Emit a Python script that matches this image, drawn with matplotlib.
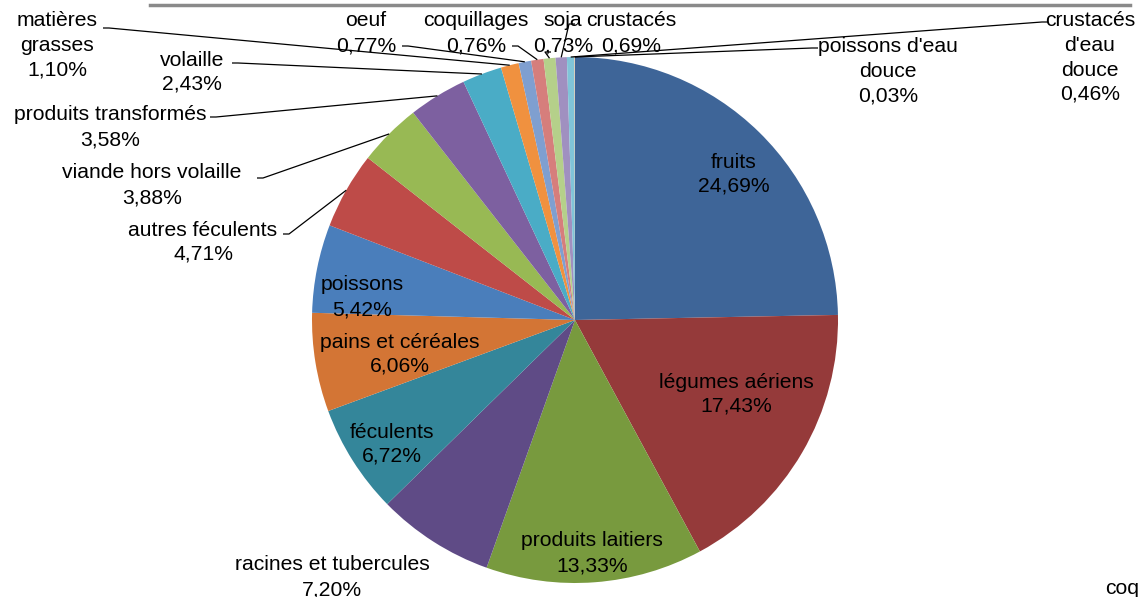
import matplotlib
matplotlib.use("Agg")
import matplotlib.pyplot as plt
import numpy as np

categories = ["fruits", "légumes aériens", "produits laitiers", "racines et tubercules",
              "féculents", "pains et céréales", "poissons", "autres féculents",
              "viande hors volaille", "produits transformés", "volaille", "matières\ngrasses",
              "oeuf", "coquillages", "soja", "crustacés", "crustacés\nd'eau\ndouce",
              "poissons d'eau\ndouce"]
values = [24.69, 17.43, 13.33, 7.20, 6.72, 6.06, 5.42, 4.71, 3.88, 3.58, 2.43, 1.10,
          0.77, 0.76, 0.73, 0.69, 0.46, 0.03]
pct_labels = ["24,69%", "17,43%", "13,33%", "7,20%", "6,72%", "6,06%", "5,42%", "4,71%",
              "3,88%", "3,58%", "2,43%", "1,10%", "0,77%", "0,76%", "0,73%", "0,69%",
              "0,46%", "0,03%"]
colors = ["#3E6598", "#953A3A", "#789A3E", "#5F4B86", "#34869A", "#D37535",
          "#4A7EBB", "#BE4B48", "#98B954", "#7D60A0", "#4AACC6", "#F0913F",
          "#7F9FD0", "#D67E7C", "#B5D08A", "#A090C0", "#80C4D8", "#F9B98A"]

W, H = 1142, 597
fig = plt.figure(figsize=(W / 100, H / 100), dpi=100)
ax = fig.add_axes([0, 0, 1, 1])

cx, cy, R = 575, H - 320, 263
ax.pie(values, colors=colors, startangle=90, counterclock=False, center=(cx, cy),
       radius=R, wedgeprops=dict(linewidth=0), frame=True)
ax.set_xlim(0, W)
ax.set_ylim(0, H)
ax.set_aspect("equal")
ax.axis("off")

FS = 15.2
font = dict(family=["Liberation Sans", "DejaVu Sans"], fontsize=FS, color="black",
            ha="center", va="center", linespacing=1.15)

# label layout: (x, y of first line in image px), leader end (image px) or None
layout = {
    0: (734, 162, None),
    1: (736, 382, None),
    2: (592, 541, None),
    3: (332, 565, None),
    4: (392, 432, None),
    5: (400, 342, None),
    6: (362, 285, None),
    7: (203, 230, (283, 234)),
    8: (152, 173, (257, 178)),
    9: (110, 115, (210, 117)),
    10: (192, 60, (232, 63)),
    11: (57, 21, (103, 28)),
    12: (366, 21, (402, 46)),
    13: (476, 21, (512, 46)),
    14: (563, 21, (551, 52)),
    15: (631, 21, (575, 24)),
    16: (1090, 21, (1048, 22)),
    17: (888, 47, (818, 48)),
}

cum = np.cumsum([0] + values[:-1])
total = sum(values)
line_h = 24.5
for i, (name, pct) in enumerate(zip(categories, pct_labels)):
    x, y, lead = layout[i]
    lines = name.split("\n") + [pct]
    for k, t in enumerate(lines):
        ax.text(x, H - (y + k * line_h), t, **font)
    if lead is not None:
        mid = (cum[i] + values[i] / 2) / total
        ang = np.deg2rad(90 - 360 * mid)
        px, py = cx + R * np.cos(ang), cy + R * np.sin(ang)
        lx, ly = lead[0], H - lead[1]
        ax.plot([lx, lx + (6 if lx < px else -6), px], [ly, ly, py],
                color="black", lw=0.9, solid_capstyle="butt")

# top border remnant of title box
ax.plot([150, 1130], [H - 5, H - 5], color="#8a8a8a", lw=2.5)
ax.text(1105, H - 588, "coq", family=["Liberation Sans", "DejaVu Sans"], fontsize=FS,
        ha="left", va="center", color="black")

fig.savefig("out.png", dpi=100)
